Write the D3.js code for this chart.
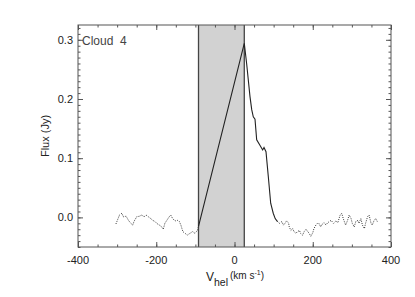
<!DOCTYPE html>
<html>
<head>
<meta charset="utf-8">
<script src="https://cdn.jsdelivr.net/npm/d3@7"></script>
<style>
  body { margin: 0; background: white; }
  text { font-family: "Liberation Sans", Arial, sans-serif; fill: #222; }
</style>
</head>
<body>
<svg id="chart"></svg>
<script>
// Cloud 4 spectrum
const noiseLeft = [
  [-303, -0.011], [-294, 0.004], [-288, 0.007], [-284, 0.001], [-277, 0.002],
  [-271, -0.005], [-265, -0.010], [-260, -0.013], [-257, -0.007], [-250, 0.001],
  [-243, 0.002], [-237, 0.004], [-231, 0.001], [-226, 0.004], [-220, 0.001],
  [-214, -0.002], [-209, -0.005], [-203, -0.007], [-199, -0.010], [-192, -0.013],
  [-186, -0.016], [-182, -0.020], [-178, -0.010], [-173, -0.005], [-167, 0.001],
  [-163, 0.004], [-158, -0.002], [-152, -0.006], [-146, -0.005], [-141, -0.007],
  [-137, -0.013], [-132, -0.024], [-126, -0.027], [-121, -0.030], [-114, -0.027],
  [-107, -0.024], [-101, -0.027], [-95, -0.022], [-92, -0.015]
];

const emission = [
  [-92, -0.015], [25, 0.294], [31, 0.26], [39.6, 0.204], [44, 0.182], [48, 0.17],
  [52.4, 0.166], [56.7, 0.131], [65, 0.122], [72, 0.114], [75.4, 0.118],
  [80.5, 0.111], [86.4, 0.069], [92.5, 0.024], [99, 0.007], [104, -0.002], [110, -0.007]
];

const noiseRight = [
  [110, -0.007], [115, -0.010], [121, -0.007], [125, -0.013], [129, -0.010],
  [133, -0.006], [138, -0.009], [140, -0.016], [144, -0.022], [149, -0.019],
  [152, -0.024], [157, -0.027], [161, -0.024], [166, -0.022], [169, -0.027],
  [174, -0.030], [178, -0.024], [183, -0.020], [186, -0.023], [191, -0.027],
  [195, -0.032], [200, -0.026], [203, -0.019], [208, -0.013], [212, -0.010],
  [217, -0.011], [220, -0.016], [225, -0.011], [229, -0.009], [234, -0.013],
  [237, -0.010], [242, -0.007], [247, -0.005], [253, -0.010], [259, -0.006],
  [264, -0.009], [270, 0.004], [274, 0.007], [278, -0.002], [284, -0.013],
  [289, -0.005], [293, 0.004], [298, -0.002], [301, -0.010], [306, -0.016],
  [310, -0.007], [315, -0.005], [318, -0.010], [323, -0.002], [327, -0.013],
  [332, -0.019], [335, -0.010], [340, 0.001], [344, 0.004], [349, -0.010],
  [352, -0.013], [357, -0.005], [361, -0.002], [365, -0.007]
];

const band = [-92, 25];
const xTicks = [-400, -200, 0, 200, 400];
const yTicks = [0.0, 0.1, 0.2, 0.3];

const width = 415;
const height = 297;
const margin = { top: 25, right: 24, bottom: 50, left: 78 };

const svg = d3.select("#chart").attr("width", width).attr("height", height);

const x = d3.scaleLinear().domain([-400, 400]).range([margin.left, width - margin.right]);
const y = d3.scaleLinear().domain([-0.05, 0.325]).range([height - margin.bottom, margin.top]);

const axisColor = "#555";

// shaded velocity window
svg.append("rect")
  .attr("x", x(band[0]))
  .attr("y", y(0.325))
  .attr("width", x(band[1]) - x(band[0]))
  .attr("height", y(-0.05) - y(0.325))
  .attr("fill", "#d2d2d2");

svg.selectAll(".band-edge")
  .data(band)
  .join("line")
  .attr("class", "band-edge")
  .attr("x1", (d) => x(d)).attr("x2", (d) => x(d))
  .attr("y1", y(0.325)).attr("y2", y(-0.05))
  .attr("stroke", "#444")
  .attr("stroke-width", 1.3);

// ticks on all four sides, pointing inwards (IDL style)
const xMinor = d3.range(-400, 401, 50);
const yMinor = d3.range(-50, 326, 10).map((d) => d / 1000);

function addAxis(axis, ticks, size, transform, cls) {
  svg.append("g")
    .attr("class", cls)
    .attr("transform", transform)
    .call(axis.tickValues(ticks).tickSize(size).tickFormat(""))
    .call((g) => g.select(".domain").remove())
    .call((g) => g.selectAll("line").attr("stroke", axisColor));
}

const atBottom = `translate(0,${y(-0.05)})`;
const atTop = `translate(0,${y(0.325)})`;
const atLeft = `translate(${x(-400)},0)`;
const atRight = `translate(${x(400)},0)`;

addAxis(d3.axisTop(x), xMinor, 2.5, atBottom, "xminor");
addAxis(d3.axisTop(x), xTicks, 5, atBottom, "xmajor");
addAxis(d3.axisBottom(x), xMinor, 2.5, atTop, "xminor-top");
addAxis(d3.axisBottom(x), xTicks, 5, atTop, "xmajor-top");
addAxis(d3.axisRight(y), yMinor, 2.5, atLeft, "yminor");
addAxis(d3.axisRight(y), yTicks, 5, atLeft, "ymajor");
addAxis(d3.axisLeft(y), yMinor, 2.5, atRight, "yminor-right");
addAxis(d3.axisLeft(y), yTicks, 5, atRight, "ymajor-right");

// tick labels
svg.selectAll(".xlabel")
  .data(xTicks)
  .join("text")
  .attr("class", "xlabel")
  .attr("x", (d) => x(d))
  .attr("y", 264)
  .attr("text-anchor", "middle")
  .style("font-size", "11px")
  .text((d) => d);

svg.selectAll(".ylabel")
  .data(yTicks)
  .join("text")
  .attr("class", "ylabel")
  .attr("x", 73)
  .attr("y", (d) => y(d) + 4)
  .attr("text-anchor", "end")
  .style("font-size", "11px")
  .text((d) => d.toFixed(1));

// frame
svg.append("rect")
  .attr("x", x(-400))
  .attr("y", y(0.325))
  .attr("width", x(400) - x(-400))
  .attr("height", y(-0.05) - y(0.325))
  .attr("fill", "none")
  .attr("stroke", axisColor)
  .attr("stroke-width", 1);

// spectrum
const line = d3.line().x((d) => x(d[0])).y((d) => y(d[1]));

svg.append("path")
  .datum(noiseLeft)
  .attr("d", line)
  .attr("fill", "none")
  .attr("stroke", "#333")
  .attr("stroke-width", 1)
  .attr("stroke-dasharray", "1,1.3");

svg.append("path")
  .datum(noiseRight)
  .attr("d", line)
  .attr("fill", "none")
  .attr("stroke", "#333")
  .attr("stroke-width", 1)
  .attr("stroke-dasharray", "1,1.3");

svg.append("path")
  .datum(emission)
  .attr("d", line)
  .attr("fill", "none")
  .attr("stroke", "#222")
  .attr("stroke-width", 1.1);

// labels
svg.append("text")
  .attr("x", 82)
  .attr("y", 45)
  .style("font-size", "12px")
  .style("fill", "#444")
  .attr("xml:space", "preserve")
  .text("Cloud  4");

svg.append("text")
  .attr("transform", `translate(49,${(y(-0.05) + y(0.325)) / 2}) rotate(-90)`)
  .attr("text-anchor", "middle")
  .style("font-size", "11px")
  .text("Flux (Jy)");

const xt = svg.append("text")
  .attr("x", 235)
  .attr("y", 281)
  .attr("text-anchor", "middle")
  .style("font-size", "12px");
xt.append("tspan").text("V");
xt.append("tspan").attr("dy", 5).style("font-size", "10.5px").text("hel");
xt.append("tspan").attr("dy", -7).attr("dx", 2).style("font-size", "10px").text("(km s");
xt.append("tspan").attr("dy", -4).style("font-size", "7px").text("-1");
xt.append("tspan").attr("dy", 4).style("font-size", "10px").text(")");
</script>
</body>
</html>
